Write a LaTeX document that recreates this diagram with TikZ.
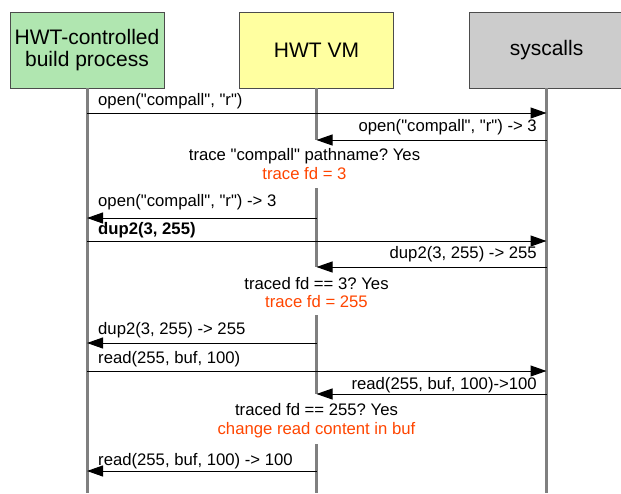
\documentclass[tikz,border=0pt]{standalone}
\usepackage{fontspec}
\setmainfont{Liberation Sans}[Ligatures=TeXOff]
\usepackage{xcolor}
\usetikzlibrary{arrows.meta,calc,positioning}

\definecolor{procGreen}{RGB}{176,230,176}
\definecolor{vmYellow}{RGB}{255,255,160}
\definecolor{sysGray}{RGB}{204,204,204}
\definecolor{lifeGray}{RGB}{128,128,128}
\definecolor{traceRed}{RGB}{255,69,0}

\frenchspacing

\begin{document}
\begin{tikzpicture}[x=1pt,y=-1pt,
                    head node/.style={draw=black!70,line width=0.8pt,minimum width=154pt,minimum height=76pt,
                                      align=center,font=\fontsize{21}{22}\selectfont},
                    life line/.style={draw=lifeGray,line width=3pt},
                    msg/.style={draw=black,line width=1pt,-{Triangle[length=16pt,width=11pt]}},
                    msg text/.style={inner sep=0pt,font=\fontsize{16.7}{18}\selectfont},
                    note/.style={inner sep=0pt,align=center,font=\fontsize{16.7}{18.5}\selectfont}]

  \useasboundingbox (0,0) rectangle (621,493);

  \node[head node,fill=procGreen] (proc) at (87,50) {HWT-controlled\\build process};
  \node[head node,fill=vmYellow] (vm) at (316.5,50) {HWT VM};
  \node[head node,fill=sysGray] (sys) at (546.5,50) {syscalls};

  % one row of points per message
  \foreach \n/\y in {1/113,2/140,3/218,4/241,5/267,6/343,7/371,8/394,9/471} {
    \coordinate (p\n) at ($(proc)+(0,\y-50)$);
    \coordinate (v\n) at ($(vm)+(0,\y-50)$);
    \coordinate (s\n) at ($(sys)+(0,\y-50)$);
  }

  \coordinate (pEnd) at ($(proc.south)+(0,405)$);
  \coordinate (vEnd) at ($(vm.south)+(0,405)$);
  \coordinate (sEnd) at ($(sys.south)+(0,405)$);
  \coordinate (vA) at ($(vm)+(0,138)$);
  \coordinate (vB) at ($(vm)+(0,265)$);
  \coordinate (vC) at ($(vm)+(0,394)$);

  \draw[life line] (proc.south) -- (pEnd);
  \draw[life line] (sys.south) -- (sEnd);
  \draw[life line] (vm.south) -- (v2) (vA) -- (v5) (vB) -- (v8) (vC) -- (vEnd);

  \path[every edge/.style={msg}]
  (p1) edge (s1)
  (s2) edge (v2)
  (v3) edge (p3)
  (p4) edge (s4)
  (s5) edge (v5)
  (v6) edge (p6)
  (p7) edge (s7)
  (s8) edge (v8)
  (v9) edge (p9);

  \node[msg text,anchor=west] (l1) at ($(p1)+(11,-12)$) {open("compall", "r")};
  \node[msg text,anchor=east] (l2) at ($(s2)+(-9.5,-13)$) {open("compall", "r") -> 3};
  \node[msg text,anchor=west] (l3) at ($(p3)+(11,-16)$) {open("compall", "r") -> 3};
  \node[msg text,anchor=west,font=\fontsize{16.7}{18}\selectfont\bfseries] (l4) at ($(p4)+(11,-11)$) {dup2(3, 255)};
  \node[msg text,anchor=east] (l5) at ($(s5)+(-9.5,-13)$) {dup2(3, 255) -> 255};
  \node[msg text,anchor=west] (l6) at ($(p6)+(11,-13)$) {dup2(3, 255) -> 255};
  \node[msg text,anchor=west] (l7) at ($(p7)+(11,-12)$) {read(255, buf, 100)};
  \node[msg text,anchor=east] (l8) at ($(s8)+(-9.5,-9)$) {read(255, buf, 100)->100};
  \node[msg text,anchor=west] (l9) at ($(p9)+(11,-10)$) {read(255, buf, 100) -> 100};

  \node[note] (noteA) at ($(vm)+(-12,114)$) {trace "compall" pathname? Yes\\\textcolor{traceRed}{trace fd = 3}};
  \node[note] (noteB) at ($(vm)+(0,242.5)$) {traced fd == 3? Yes\\\textcolor{traceRed}{trace fd = 255}};
  \node[note] (noteC) at ($(vm)+(0,370.5)$) {traced fd == 255? Yes\\\textcolor{traceRed}{change read content in buf}};

\end{tikzpicture}
\end{document}
